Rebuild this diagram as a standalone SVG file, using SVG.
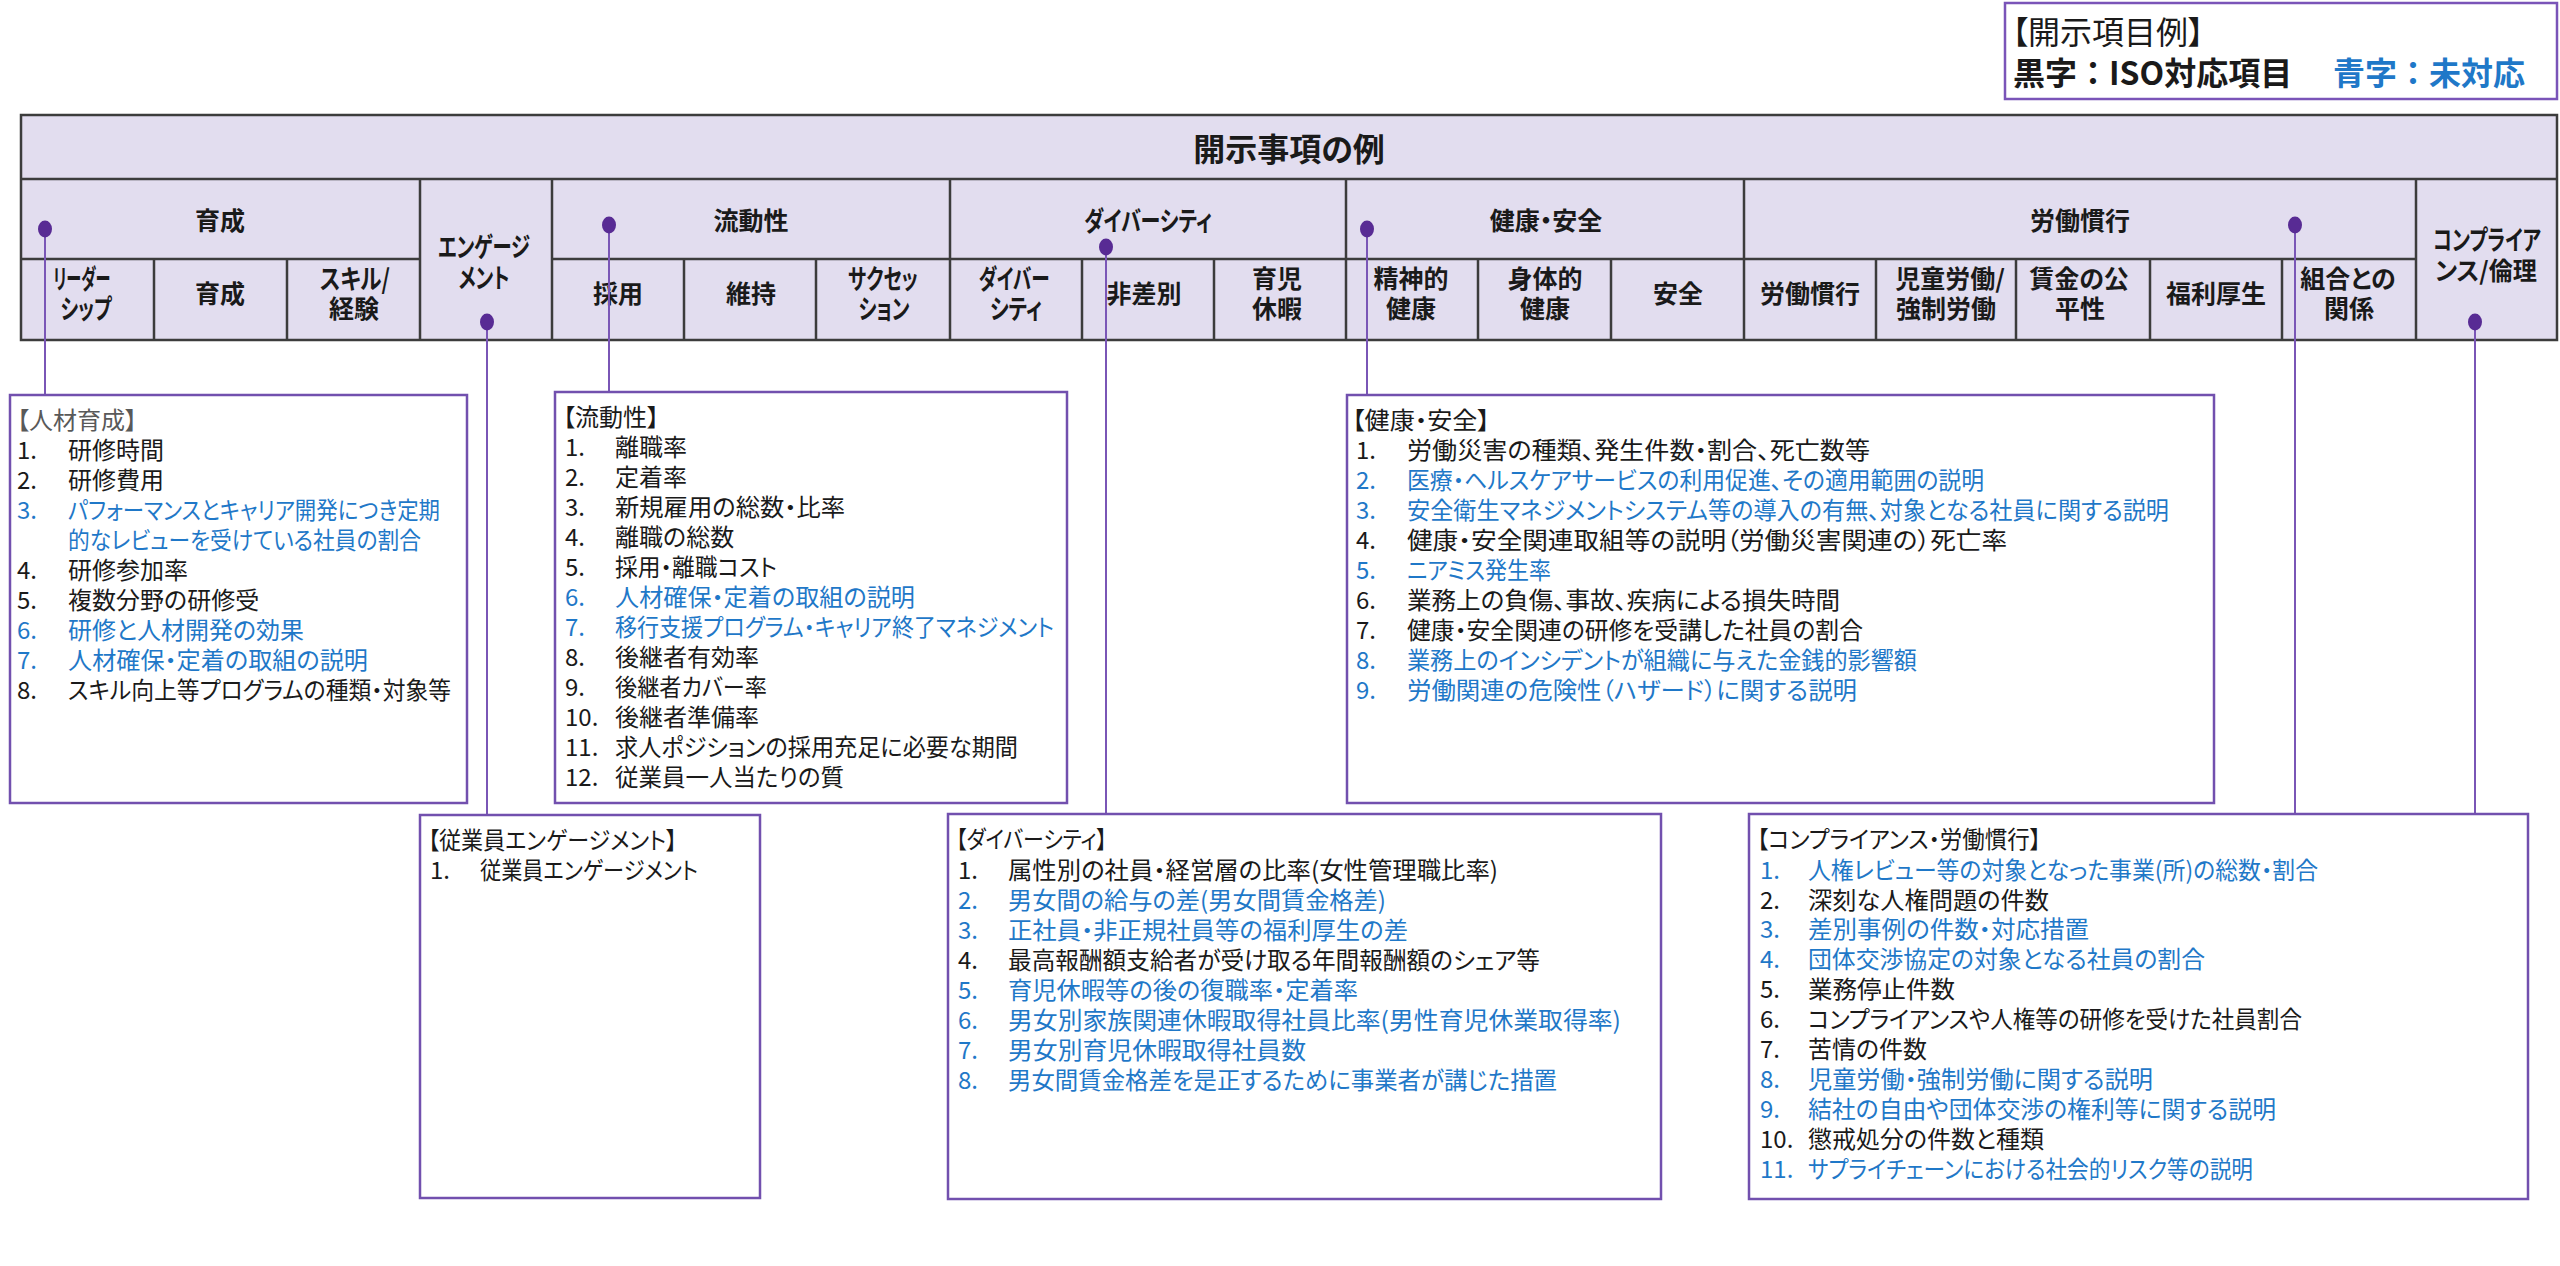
<svg xmlns="http://www.w3.org/2000/svg" width="2560" height="1266" viewBox="0 0 2560 1266">
<style>
text{font-family:"Noto Sans CJK JP","Noto Sans",sans-serif;font-feature-settings:"palt" 1;}
.h{font-size:25px;font-weight:bold;fill:#1a1a1a;text-anchor:middle;dominant-baseline:central}
.k{font-size:27px}
.ttl{font-size:32px;font-weight:bold;fill:#1a1a1a;text-anchor:middle;dominant-baseline:central}
.li{font-size:24px;fill:#1a1a1a;dominant-baseline:central}
.b{fill:#1f78c8}
.g{fill:#595959}
.box{fill:#fff;stroke:#7250ae;stroke-width:2.5}
.grid{stroke:#3c3c3c;stroke-width:2.5;fill:none}
.con{stroke:#7a56b6;stroke-width:2;fill:none}
.dot{fill:#582b94}
</style>
<rect width="2560" height="1266" fill="#fff"/>

<g id="legend">
<rect x="2005" y="3" width="552" height="96" fill="#fff" stroke="#7a54b8" stroke-width="2.5"/>
<text x="2012" y="30" style="font-size:32px;fill:#1a1a1a;dominant-baseline:central">【開示項目例】</text>
<text x="2013" y="71" style="font-size:32px;font-weight:bold;fill:#1a1a1a;dominant-baseline:central;font-feature-settings:normal">黒字：ISO対応項目<tspan x="2333" class="b">青字：未対応</tspan></text>
</g>

<g id="table">
<rect x="21" y="115" width="2536" height="225" fill="#e2ddef"/>
<path class="grid" d="M21,115H2557V340H21Z M21,179H2557 M21,259H420 M552,259H2416
M420,179V340 M552,179V340 M950,179V340 M1346,179V340 M1744,179V340 M2416,179V340
M154,259V340 M287,259V340 M684,259V340 M816,259V340 M1082,259V340 M1214,259V340 M1478,259V340 M1611,259V340 M1876,259V340 M2016,259V340 M2150,259V340 M2282,259V340"/>
<text class="ttl" x="1289" y="147">開示事項の例</text>
<text class="h" x="220" y="219">育成</text>
<text class="h k" x="484" y="245" textLength="92" lengthAdjust="spacingAndGlyphs">エンゲージ</text>
<text class="h k" x="484" y="276" textLength="51" lengthAdjust="spacingAndGlyphs">メント</text>
<text class="h" x="751" y="219">流動性</text>
<text class="h k" x="1148" y="219" textLength="128" lengthAdjust="spacingAndGlyphs">ダイバーシティ</text>
<text class="h" x="1546" y="219">健康・安全</text>
<text class="h" x="2080" y="219">労働慣行</text>
<text class="h k" x="2487" y="238" textLength="108" lengthAdjust="spacingAndGlyphs">コンプライア</text>
<text class="h" x="2486" y="269" textLength="102" lengthAdjust="spacingAndGlyphs">ンス/倫理</text>

<text class="h k" x="82" y="277" textLength="57" lengthAdjust="spacingAndGlyphs">リーダー</text><text class="h k" x="86" y="307" textLength="51" lengthAdjust="spacingAndGlyphs">シップ</text>
<text class="h" x="220" y="292">育成</text>
<text class="h k" x="355" y="277" textLength="70" lengthAdjust="spacingAndGlyphs">スキル/</text><text class="h" x="354" y="307">経験</text>
<text class="h" x="618" y="292">採用</text>
<text class="h" x="751" y="292">維持</text>
<text class="h k" x="883" y="277" textLength="70" lengthAdjust="spacingAndGlyphs">サクセッ</text><text class="h k" x="884" y="307" textLength="51" lengthAdjust="spacingAndGlyphs">ション</text>
<text class="h k" x="1014" y="277" textLength="71" lengthAdjust="spacingAndGlyphs">ダイバー</text><text class="h k" x="1016" y="307" textLength="52" lengthAdjust="spacingAndGlyphs">シティ</text>
<text class="h" x="1144" y="292">非差別</text>
<text class="h" x="1277" y="277">育児</text><text class="h" x="1277" y="307">休暇</text>
<text class="h" x="1411" y="277">精神的</text><text class="h" x="1411" y="307">健康</text>
<text class="h" x="1545" y="277">身体的</text><text class="h" x="1545" y="307">健康</text>
<text class="h" x="1678" y="292">安全</text>
<text class="h" x="1810" y="292">労働慣行</text>
<text class="h" x="1950" y="277">児童労働/</text><text class="h" x="1946" y="307">強制労働</text>
<text class="h" x="2079" y="277">賃金の公</text><text class="h" x="2080" y="307">平性</text>
<text class="h" x="2216" y="292">福利厚生</text>
<text class="h" x="2348" y="277">組合との</text><text class="h" x="2349" y="307">関係</text>
</g>

<g id="connectors">
<path class="con" d="M45,229V395 M487,322V815 M609,225V392 M1106,247V814 M1367,229V395 M2295,225V814 M2475,322V814"/>
<ellipse class="dot" cx="45" cy="229" rx="7" ry="8.5"/>
<ellipse class="dot" cx="487" cy="322" rx="7" ry="8.5"/>
<ellipse class="dot" cx="609" cy="225" rx="7" ry="8.5"/>
<ellipse class="dot" cx="1106" cy="247" rx="7" ry="8.5"/>
<ellipse class="dot" cx="1367" cy="229" rx="7" ry="8.5"/>
<ellipse class="dot" cx="2295" cy="225" rx="7" ry="8.5"/>
<ellipse class="dot" cx="2475" cy="322" rx="7" ry="8.5"/>
</g>

<g id="box-jinzai">
<rect class="box" x="10" y="395" width="457" height="408"/>
<text class="li g" x="17" y="418">【人材育成】</text>
<text class="li" x="17" y="448">1.</text><text class="li" x="68" y="448">研修時間</text>
<text class="li" x="17" y="478">2.</text><text class="li" x="68" y="478">研修費用</text>
<text class="li b" x="17" y="508">3.</text><text class="li b" x="68" y="508" textLength="372" lengthAdjust="spacingAndGlyphs">パフォーマンスとキャリア開発につき定期</text>
<text class="li b" x="68" y="538" textLength="353" lengthAdjust="spacingAndGlyphs">的なレビューを受けている社員の割合</text>
<text class="li" x="17" y="568">4.</text><text class="li" x="68" y="568">研修参加率</text>
<text class="li" x="17" y="598">5.</text><text class="li" x="68" y="598">複数分野の研修受</text>
<text class="li b" x="17" y="628">6.</text><text class="li b" x="68" y="628" textLength="236" lengthAdjust="spacingAndGlyphs">研修と人材開発の効果</text>
<text class="li b" x="17" y="658">7.</text><text class="li b" x="68" y="658" textLength="300" lengthAdjust="spacingAndGlyphs">人材確保・定着の取組の説明</text>
<text class="li" x="17" y="688">8.</text><text class="li" x="68" y="688" textLength="383" lengthAdjust="spacingAndGlyphs">スキル向上等プログラムの種類・対象等</text>
</g>

<g id="box-ryudo">
<rect class="box" x="555" y="392" width="512" height="411"/>
<text class="li" x="563" y="415">【流動性】</text>
<text class="li" x="565" y="445">1.</text><text class="li" x="615" y="445">離職率</text>
<text class="li" x="565" y="475">2.</text><text class="li" x="615" y="475">定着率</text>
<text class="li" x="565" y="505">3.</text><text class="li" x="615" y="505" textLength="230" lengthAdjust="spacingAndGlyphs">新規雇用の総数・比率</text>
<text class="li" x="565" y="535">4.</text><text class="li" x="615" y="535">離職の総数</text>
<text class="li" x="565" y="565">5.</text><text class="li" x="615" y="565" textLength="162" lengthAdjust="spacingAndGlyphs">採用・離職コスト</text>
<text class="li b" x="565" y="595">6.</text><text class="li b" x="615" y="595" textLength="300" lengthAdjust="spacingAndGlyphs">人材確保・定着の取組の説明</text>
<text class="li b" x="565" y="625">7.</text><text class="li b" x="615" y="625" textLength="439" lengthAdjust="spacingAndGlyphs">移行支援プログラム・キャリア終了マネジメント</text>
<text class="li" x="565" y="655">8.</text><text class="li" x="615" y="655">後継者有効率</text>
<text class="li" x="565" y="685">9.</text><text class="li" x="615" y="685" textLength="152" lengthAdjust="spacingAndGlyphs">後継者カバー率</text>
<text class="li" x="565" y="715">10.</text><text class="li" x="615" y="715">後継者準備率</text>
<text class="li" x="565" y="745">11.</text><text class="li" x="615" y="745" textLength="403" lengthAdjust="spacingAndGlyphs">求人ポジションの採用充足に必要な期間</text>
<text class="li" x="565" y="775">12.</text><text class="li" x="615" y="775" textLength="229" lengthAdjust="spacingAndGlyphs">従業員一人当たりの質</text>
</g>

<g id="box-kenko">
<rect class="box" x="1347" y="395" width="867" height="408"/>
<text class="li" x="1352" y="418" textLength="138" lengthAdjust="spacingAndGlyphs">【健康・安全】</text>
<text class="li" x="1356" y="448">1.</text><text class="li" x="1407" y="448" textLength="463" lengthAdjust="spacingAndGlyphs">労働災害の種類、発生件数・割合、死亡数等</text>
<text class="li b" x="1356" y="478">2.</text><text class="li b" x="1407" y="478" textLength="577" lengthAdjust="spacingAndGlyphs">医療・ヘルスケアサービスの利用促進、その適用範囲の説明</text>
<text class="li b" x="1356" y="508">3.</text><text class="li b" x="1407" y="508" textLength="762" lengthAdjust="spacingAndGlyphs">安全衛生マネジメントシステム等の導入の有無、対象となる社員に関する説明</text>
<text class="li" x="1356" y="538">4.</text><text class="li" x="1407" y="538" textLength="600" lengthAdjust="spacingAndGlyphs">健康・安全関連取組等の説明（労働災害関連の）死亡率</text>
<text class="li b" x="1356" y="568">5.</text><text class="li b" x="1407" y="568" textLength="144" lengthAdjust="spacingAndGlyphs">ニアミス発生率</text>
<text class="li" x="1356" y="598">6.</text><text class="li" x="1407" y="598" textLength="433" lengthAdjust="spacingAndGlyphs">業務上の負傷、事故、疾病による損失時間</text>
<text class="li" x="1356" y="628">7.</text><text class="li" x="1407" y="628" textLength="456" lengthAdjust="spacingAndGlyphs">健康・安全関連の研修を受講した社員の割合</text>
<text class="li b" x="1356" y="658">8.</text><text class="li b" x="1407" y="658" textLength="510" lengthAdjust="spacingAndGlyphs">業務上のインシデントが組織に与えた金銭的影響額</text>
<text class="li b" x="1356" y="688">9.</text><text class="li b" x="1407" y="688" textLength="450" lengthAdjust="spacingAndGlyphs">労働関連の危険性（ハザード）に関する説明</text>
</g>

<g id="box-engagement">
<rect class="box" x="420" y="815" width="340" height="383"/>
<text class="li" x="428" y="838" textLength="249" lengthAdjust="spacingAndGlyphs">【従業員エンゲージメント】</text>
<text class="li" x="430" y="868">1.</text><text class="li" x="480" y="868" textLength="218" lengthAdjust="spacingAndGlyphs">従業員エンゲージメント</text>
</g>

<g id="box-diversity">
<rect class="box" x="948" y="814" width="713" height="385"/>
<text class="li" x="956" y="837" textLength="151" lengthAdjust="spacingAndGlyphs">【ダイバーシティ】</text>
<text class="li" x="958" y="868">1.</text><text class="li" x="1008" y="868" textLength="490" lengthAdjust="spacingAndGlyphs">属性別の社員・経営層の比率(女性管理職比率)</text>
<text class="li b" x="958" y="898">2.</text><text class="li b" x="1008" y="898" textLength="378" lengthAdjust="spacingAndGlyphs">男女間の給与の差(男女間賃金格差)</text>
<text class="li b" x="958" y="928">3.</text><text class="li b" x="1008" y="928" textLength="400" lengthAdjust="spacingAndGlyphs">正社員・非正規社員等の福利厚生の差</text>
<text class="li" x="958" y="958">4.</text><text class="li" x="1008" y="958" textLength="532" lengthAdjust="spacingAndGlyphs">最高報酬額支給者が受け取る年間報酬額のシェア等</text>
<text class="li b" x="958" y="988">5.</text><text class="li b" x="1008" y="988" textLength="350" lengthAdjust="spacingAndGlyphs">育児休暇等の後の復職率・定着率</text>
<text class="li b" x="958" y="1018">6.</text><text class="li b" x="1008" y="1018" textLength="613" lengthAdjust="spacingAndGlyphs">男女別家族関連休暇取得社員比率(男性育児休業取得率)</text>
<text class="li b" x="958" y="1048">7.</text><text class="li b" x="1008" y="1048" textLength="298" lengthAdjust="spacingAndGlyphs">男女別育児休暇取得社員数</text>
<text class="li b" x="958" y="1078">8.</text><text class="li b" x="1008" y="1078" textLength="549" lengthAdjust="spacingAndGlyphs">男女間賃金格差を是正するために事業者が講じた措置</text>
</g>

<g id="box-compliance">
<rect class="box" x="1749" y="814" width="779" height="385"/>
<text class="li" x="1757" y="837" textLength="284" lengthAdjust="spacingAndGlyphs">【コンプライアンス・労働慣行】</text>
<text class="li b" x="1760" y="868">1.</text><text class="li b" x="1808" y="868" textLength="510" lengthAdjust="spacingAndGlyphs">人権レビュー等の対象となった事業(所)の総数・割合</text>
<text class="li" x="1760" y="898">2.</text><text class="li" x="1808" y="898" textLength="241" lengthAdjust="spacingAndGlyphs">深刻な人権問題の件数</text>
<text class="li b" x="1760" y="927">3.</text><text class="li b" x="1808" y="927" textLength="281" lengthAdjust="spacingAndGlyphs">差別事例の件数・対応措置</text>
<text class="li b" x="1760" y="957">4.</text><text class="li b" x="1808" y="957" textLength="397" lengthAdjust="spacingAndGlyphs">団体交渉協定の対象となる社員の割合</text>
<text class="li" x="1760" y="987">5.</text><text class="li" x="1808" y="987" textLength="147" lengthAdjust="spacingAndGlyphs">業務停止件数</text>
<text class="li" x="1760" y="1017">6.</text><text class="li" x="1808" y="1017" textLength="494" lengthAdjust="spacingAndGlyphs">コンプライアンスや人権等の研修を受けた社員割合</text>
<text class="li" x="1760" y="1047">7.</text><text class="li" x="1808" y="1047" textLength="119" lengthAdjust="spacingAndGlyphs">苦情の件数</text>
<text class="li b" x="1760" y="1077">8.</text><text class="li b" x="1808" y="1077" textLength="345" lengthAdjust="spacingAndGlyphs">児童労働・強制労働に関する説明</text>
<text class="li b" x="1760" y="1107">9.</text><text class="li b" x="1808" y="1107" textLength="468" lengthAdjust="spacingAndGlyphs">結社の自由や団体交渉の権利等に関する説明</text>
<text class="li" x="1760" y="1137">10.</text><text class="li" x="1808" y="1137" textLength="236" lengthAdjust="spacingAndGlyphs">懲戒処分の件数と種類</text>
<text class="li b" x="1760" y="1167">11.</text><text class="li b" x="1808" y="1167" textLength="445" lengthAdjust="spacingAndGlyphs">サプライチェーンにおける社会的リスク等の説明</text>
</g>
</svg>
